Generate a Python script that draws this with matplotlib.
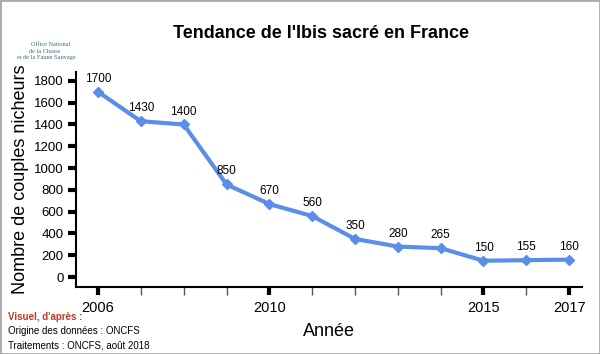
import matplotlib
matplotlib.use("Agg")
import matplotlib.pyplot as plt
from matplotlib.patches import Rectangle

plt.rcParams['font.family'] = ['Liberation Sans', 'DejaVu Sans']

years = [2006, 2007, 2008, 2009, 2010, 2011, 2012, 2013, 2014, 2015, 2016, 2017]
values = [1700, 1430, 1400, 850, 670, 560, 350, 280, 265, 150, 155, 160]
major_years = [2006, 2010, 2015, 2017]
yticks = [0, 200, 400, 600, 800, 1000, 1200, 1400, 1600, 1800]

fig = plt.figure(figsize=(6, 3.54), dpi=100)
ax = fig.add_axes([0.127, 0.189, 0.843, 0.608])

ax.plot(years, values, color='#5b8ee8', lw=3, marker='D', ms=5, zorder=3)
for x, v in zip(years, values):
    ax.annotate(str(v), (x, v), xytext=(0, 5), textcoords='offset points',
                ha='center', va='bottom', fontsize=8.5)

ax.set_xlim(2005.49, 2017.3)
ax.set_ylim(-92, 1883)
ax.set_xticks(major_years)
ax.set_xticks([y for y in years if y not in major_years], minor=True)
ax.set_yticks(yticks)
for s in ['top', 'right']:
    ax.spines[s].set_visible(False)
for s in ['left', 'bottom']:
    ax.spines[s].set_linewidth(1.5)
ax.tick_params(axis='both', which='major', direction='out', length=6, width=3, labelsize=9.5, pad=3)
ax.tick_params(axis='x', which='minor', direction='out', length=6, width=1, color='#555555')
ax.tick_params(axis='x', which='major', pad=4, labelsize=10.5)

ax.set_xlabel('Année', fontsize=13, labelpad=6)
ax.set_ylabel('Nombre de couples nicheurs', fontsize=13, labelpad=4)

fig.text(0.535, 0.905, "Tendance de l'Ibis sacré en France", ha='center', va='center',
         fontsize=13, fontweight='bold')

# logo text
fig.text(0.085, 0.873, 'Office National', ha='center', va='center', fontsize=4.5,
         color='#3f7070', family='Liberation Serif')
fig.text(0.075, 0.855, 'de la Chasse', ha='center', va='center', fontsize=4.5,
         color='#3f7070', family='Liberation Serif')
fig.text(0.078, 0.837, 'et de la Faune Sauvage', ha='center', va='center', fontsize=4.5,
         color='#3f7070', family='Liberation Serif')

fig.text(0.013, 0.105, "Visuel, d'après :", ha='left', va='center', fontsize=7,
         color='#c0392b', fontweight='bold')
fig.text(0.013, 0.065, 'Origine des données : ONCFS', ha='left', va='center', fontsize=7)
fig.text(0.013, 0.025, 'Traitements : ONCFS, août 2018', ha='left', va='center', fontsize=7)

fig.patches.append(Rectangle((0, 0), 1, 1, transform=fig.transFigure, fill=False,
                             edgecolor='#aaaaaa', lw=2))

fig.savefig('out.png', dpi=100)
